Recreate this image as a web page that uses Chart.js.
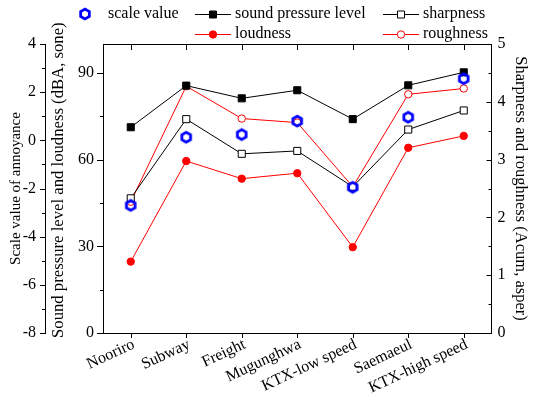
<!DOCTYPE html>
<html lang="en">
<head>
<meta charset="UTF-8">
<title>Annoyance and sound quality</title>
<script src="https://cdn.jsdelivr.net/npm/chart.js@4.4.0/dist/chart.umd.min.js"></script>
<style>
  body { margin: 0; background: #fff; }
</style>
</head>
<body>
<canvas id="c" width="534" height="395"></canvas>
<script>
var categories = ['Nooriro', 'Subway', 'Freight', 'Mugunghwa', 'KTX-low speed', 'Saemaeul', 'KTX-high speed'];
var scaleValue = [-2.70, 0.13, 0.24, 0.80, -1.95, 0.96, 2.56];   // left outer axis
var soundPressure = [71.2, 85.6, 81.2, 84.0, 74.0, 85.7, 90.2];  // dBA
var loudness = [24.7, 59.5, 53.4, 55.3, 29.7, 64.1, 68.2];       // sone
var sharpness = [2.33, 3.70, 3.10, 3.15, 2.53, 3.52, 3.85];      // acum
var roughness = [2.27, 4.27, 3.71, 3.64, 2.53, 4.13, 4.23];      // asper

var annoyTicks = [-8, -7, -6, -5, -4, -3, -2, -1, 0, 1, 2, 3, 4];
var levelTicks = [0, 15, 30, 45, 60, 75, 90];
var rightTicks = [0, 0.5, 1, 1.5, 2, 2.5, 3, 3.5, 4, 4.5, 5];

var FONT = "'Liberation Serif', 'Times New Roman', Times, serif";
var BLUE = '#0000ff', RED = '#ff0000';

// blue hexagon marker
function hexMarker() {
    var cv = document.createElement('canvas');
    cv.width = 16; cv.height = 16;
    var g = cv.getContext('2d');
    g.strokeStyle = BLUE;
    g.lineWidth = 2.8;
    g.beginPath();
    for (var k = 0; k < 6; k++) {
        var a = Math.PI / 2 + k * Math.PI / 3;
        var px = 8 + 5 * Math.cos(a), py = 8 + 5 * Math.sin(a);
        if (k) g.lineTo(px, py); else g.moveTo(px, py);
    }
    g.closePath();
    g.stroke();
    return cv;
}
var hex = hexMarker();

function setTicks(list) {
    return function (scale) {
        scale.ticks = list.map(function (v) { return { value: v }; });
    };
}

var frame = {
    id: 'frame',
    afterDraw: function (chart) {
        var ctx = chart.ctx, a = chart.chartArea, s = chart.scales;
        ctx.save();
        ctx.strokeStyle = '#000';
        ctx.lineWidth = 1;
        ctx.beginPath();
        ctx.moveTo(a.left, Math.round(a.top) + 0.5);
        ctx.lineTo(a.right, Math.round(a.top) + 0.5);
        categories.forEach(function (c, i) {
            var px = Math.round(s.x.getPixelForValue(i)) + 0.5;
            ctx.moveTo(px, a.bottom); ctx.lineTo(px, a.bottom + 5);
            ctx.moveTo(px, a.top); ctx.lineTo(px, a.top + 6);
        });
        s.y.ticks.forEach(function (t) {
            var py = Math.round(s.y.getPixelForValue(t.value)) + 0.5;
            var len = t.value % 30 === 0 ? 6 : 3;
            ctx.moveTo(s.y.right, py); ctx.lineTo(s.y.right - len, py);
        });
        s.ya.ticks.forEach(function (t) {
            var py = Math.round(s.ya.getPixelForValue(t.value)) + 0.5;
            var len = t.value % 2 === 0 ? 5 : 3;
            ctx.moveTo(s.ya.right, py); ctx.lineTo(s.ya.right - len, py);
        });
        s.yr.ticks.forEach(function (t) {
            var py = Math.round(s.yr.getPixelForValue(t.value)) + 0.5;
            var len = t.value % 1 === 0 ? 5 : 3;
            ctx.moveTo(s.yr.left, py); ctx.lineTo(s.yr.left - len, py);
        });
        ctx.stroke();

        // legend
        ctx.font = '16px ' + FONT;
        ctx.textBaseline = 'middle';
        ctx.fillStyle = '#000';
        ctx.drawImage(hex, 85 - 8, 14 - 8);
        ctx.fillText('scale value', 108, 14);
        function item(x, y, color, shape, label) {
            ctx.beginPath();
            ctx.strokeStyle = color;
            ctx.lineWidth = 1;
            ctx.moveTo(x, y + 0.5); ctx.lineTo(x + 36, y + 0.5);
            ctx.stroke();
            var cx = x + 18;
            ctx.beginPath();
            if (shape === 'sq') ctx.rect(cx - 3.5, y - 3, 7, 7);
            else ctx.arc(cx, y + 0.5, 3.7, 0, Math.PI * 2);
            ctx.fillStyle = label === 'sharpness' || label === 'roughness' ? '#fff' : color;
            ctx.fill();
            ctx.stroke();
            ctx.fillStyle = '#000';
            ctx.fillText(label, x + 40, y);
        }
        item(195, 14, '#000', 'sq', 'sound pressure level');
        item(383, 14, '#000', 'sq', 'sharpness');
        item(195, 34, RED, 'ci', 'loudness');
        item(383, 34, RED, 'ci', 'roughness');
        ctx.restore();
    }
};

var tickFont = { family: FONT, size: 16 };

new Chart(document.getElementById('c'), {
    type: 'line',
    data: {
        labels: categories,
        datasets: [
            {
                label: 'scale value', data: scaleValue, yAxisID: 'ya',
                showLine: false, pointStyle: hex, pointRadius: 6
            },
            {
                label: 'sound pressure level', data: soundPressure, yAxisID: 'y',
                borderColor: '#000', backgroundColor: '#000', borderWidth: 1,
                pointStyle: 'rect', pointRadius: 5, pointBorderWidth: 1
            },
            {
                label: 'loudness', data: loudness, yAxisID: 'y',
                borderColor: RED, backgroundColor: RED, borderWidth: 1,
                pointStyle: 'circle', pointRadius: 3.7, pointBorderWidth: 1
            },
            {
                label: 'sharpness', data: sharpness, yAxisID: 'yr',
                borderColor: '#000', backgroundColor: '#fff', borderWidth: 1,
                pointStyle: 'rect', pointRadius: 5, pointBorderWidth: 1
            },
            {
                label: 'roughness', data: roughness, yAxisID: 'yr',
                borderColor: RED, backgroundColor: '#fff', borderWidth: 1,
                pointStyle: 'circle', pointRadius: 3.7, pointBorderWidth: 1
            }
        ]
    },
    options: {
        responsive: false,
        animation: false,
        devicePixelRatio: 1,
        layout: { padding: { top: 44, left: 0, right: 0, bottom: 0 } },
        plugins: { legend: { display: false }, tooltip: { enabled: false } },
        elements: { line: { tension: 0 } },
        scales: {
            x: {
                type: 'category',
                offset: true,
                grid: { display: true, drawOnChartArea: false, drawTicks: false },
                border: { color: '#000', width: 1 },
                ticks: {
                    color: '#000', font: tickFont, padding: 2, labelOffset: 3,
                    minRotation: 25, maxRotation: 25, autoSkip: false
                },
                afterFit: function (s) { s.height = 62; }
            },
            y: {
                position: 'left', weight: 0,
                min: 0, max: 100,
                afterBuildTicks: setTicks(levelTicks),
                grid: { display: true, drawOnChartArea: false, drawTicks: false },
                border: { color: '#000', width: 1 },
                ticks: {
                    color: '#000', font: tickFont, padding: 9, autoSkip: false,
                    callback: function (v) { return v % 30 === 0 ? v : ''; }
                },
                title: {
                    display: true, text: '    Sound pressure level and loudness (dBA, sone)',
                    color: '#000', font: { family: FONT, size: 16.7 }, padding: { top: 4, bottom: 0 }
                },
                afterFit: function (s) { s.width = 58; }
            },
            ya: {
                position: 'left', weight: 10,
                min: -8, max: 4,
                afterBuildTicks: setTicks(annoyTicks),
                grid: { display: true, drawOnChartArea: false, drawTicks: false },
                border: { color: '#000', width: 1 },
                ticks: {
                    color: '#000', font: tickFont, padding: 9, autoSkip: false,
                    callback: function (v) { return v % 2 === 0 ? v : ''; }
                },
                title: {
                    display: true, text: 'Scale value of annoyance',
                    color: '#000', font: { family: FONT, size: 15 }, padding: { top: 7, bottom: 0 }
                },
                afterFit: function (s) { s.width = 45; }
            },
            yr: {
                position: 'right',
                min: 0, max: 5,
                afterBuildTicks: setTicks(rightTicks),
                grid: { display: true, drawOnChartArea: false, drawTicks: false },
                border: { color: '#000', width: 1 },
                ticks: {
                    color: '#000', font: tickFont, padding: 6, autoSkip: false,
                    callback: function (v) { return v % 1 === 0 ? v : ''; }
                },
                title: {
                    display: true, text: 'Sharpness and roughness (Acum, asper)',
                    color: '#000', font: { family: FONT, size: 16.5 }, padding: { top: 4, bottom: 0 }
                },
                afterFit: function (s) { s.width = 42.5; }
            }
        }
    },
    plugins: [frame]
});
</script>
</body>
</html>
